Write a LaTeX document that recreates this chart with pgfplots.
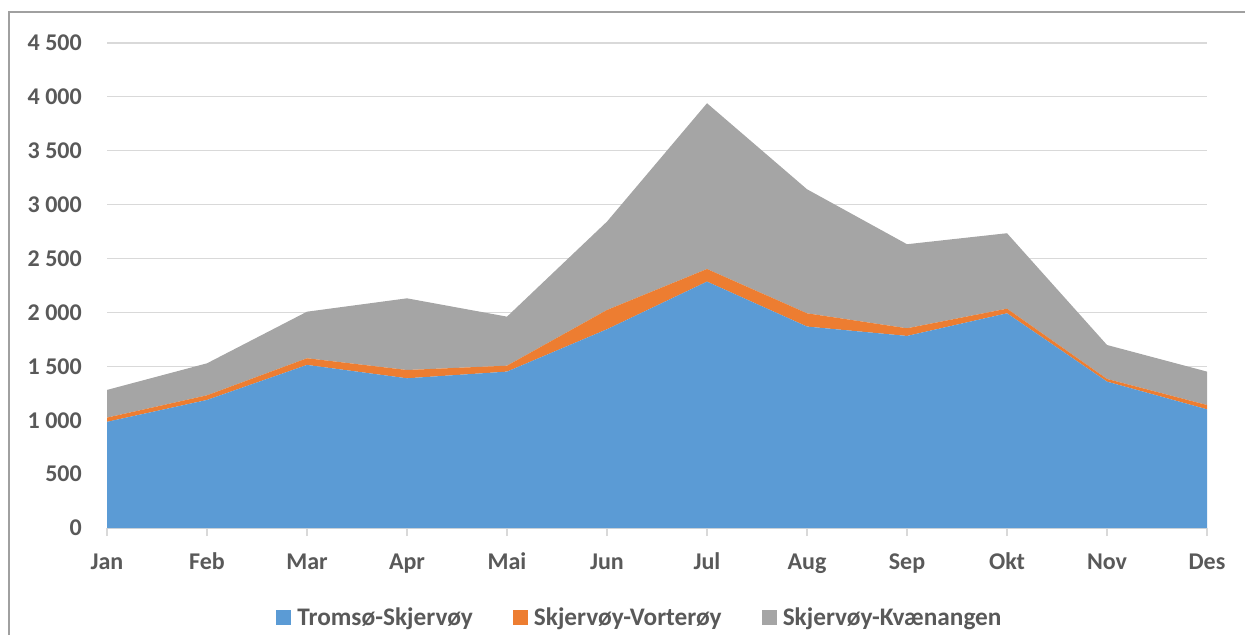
\documentclass[border=0pt]{standalone}
\usepackage{fontspec}
\setmainfont{Carlito}
\usepackage{pgfplots}
\pgfplotsset{compat=1.18}
\definecolor{cblue}{HTML}{5B9BD5}
\definecolor{corange}{HTML}{ED7D31}
\definecolor{cgray}{HTML}{A5A5A5}
\definecolor{txtgray}{HTML}{595959}
\definecolor{gridgray}{HTML}{D9D9D9}
\definecolor{framegray}{HTML}{A0A0A0}
\begin{document}
\begin{tikzpicture}[x=1pt,y=1pt]
\path[use as bounding box] (0,0) rectangle (1245,635);
\draw[color=framegray, line width=1.5pt] (9,0) -- (9,623) -- (1245,623);
\begin{axis}[
  at={(107pt,107pt)}, anchor=south west,
  scale only axis, width=1100pt, height=485pt,
  xmin=0, xmax=11, ymin=0, ymax=4500,
  stack plots=y,
  xtick={0,...,11},
  xticklabels={Jan,Feb,Mar,Apr,Mai,Jun,Jul,Aug,Sep,Okt,Nov,Des},
  ytick={0,500,...,4500},
  yticklabels={0,500,1 000,1 500,2 000,2 500,3 000,3 500,4 000,4 500},
  axis x line*=bottom, axis y line*=left,
  y axis line style={draw=none},
  x axis line style={draw=gridgray, line width=1.2pt},
  ytick style={draw=none},
  xtick style={draw=gridgray, line width=1.2pt},
  tick align=outside, major tick length=8pt,
  ymajorgrids, grid style={draw=gridgray, line width=1.2pt},
  tick label style={font=\fontsize{24}{28}\selectfont\bfseries, text=txtgray},
  yticklabel style={inner sep=0pt, anchor=east, xshift=-17pt},
  xticklabel style={inner sep=0pt, anchor=base, yshift=-33pt},
  legend columns=3,
  legend cell align=left,
  legend style={at={(0.4836,-0.1835)}, anchor=center, draw=none, fill=none,
    font=\fontsize{25.3}{29}\selectfont\bfseries, text=txtgray,
    inner sep=0pt, nodes={inner sep=0pt},
    /tikz/every odd column/.append style={column sep=6pt},
    /tikz/every even column/.append style={column sep=40pt}},
  legend image code/.code={\fill[#1] (0pt,-7.5pt) rectangle (15pt,7.5pt);},
  axis on top=false,
]
\addplot[fill=cblue, draw=none] coordinates {
(0,985) (1,1188) (2,1513) (3,1389) (4,1451) (5,1844) (6,2286) (7,1869) (8,1782) (9,1992) (10,1358) (11,1101)
} \closedcycle;
\addlegendentry{Tromsø-Skjervøy}
\addplot[fill=corange, draw=none] coordinates {
(0,39) (1,43) (2,62) (3,77) (4,55) (5,179) (6,117) (7,123) (8,71) (9,43) (10,25) (11,40)
} \closedcycle;
\addlegendentry{Skjervøy-Vorterøy}
\addplot[fill=cgray, draw=none] coordinates {
(0,257) (1,297) (2,432) (3,665) (4,455) (5,820) (6,1538) (7,1151) (8,780) (9,700) (10,315) (11,310)
} \closedcycle;
\addlegendentry{Skjervøy-Kvænangen}
\end{axis}
\end{tikzpicture}
\end{document}
